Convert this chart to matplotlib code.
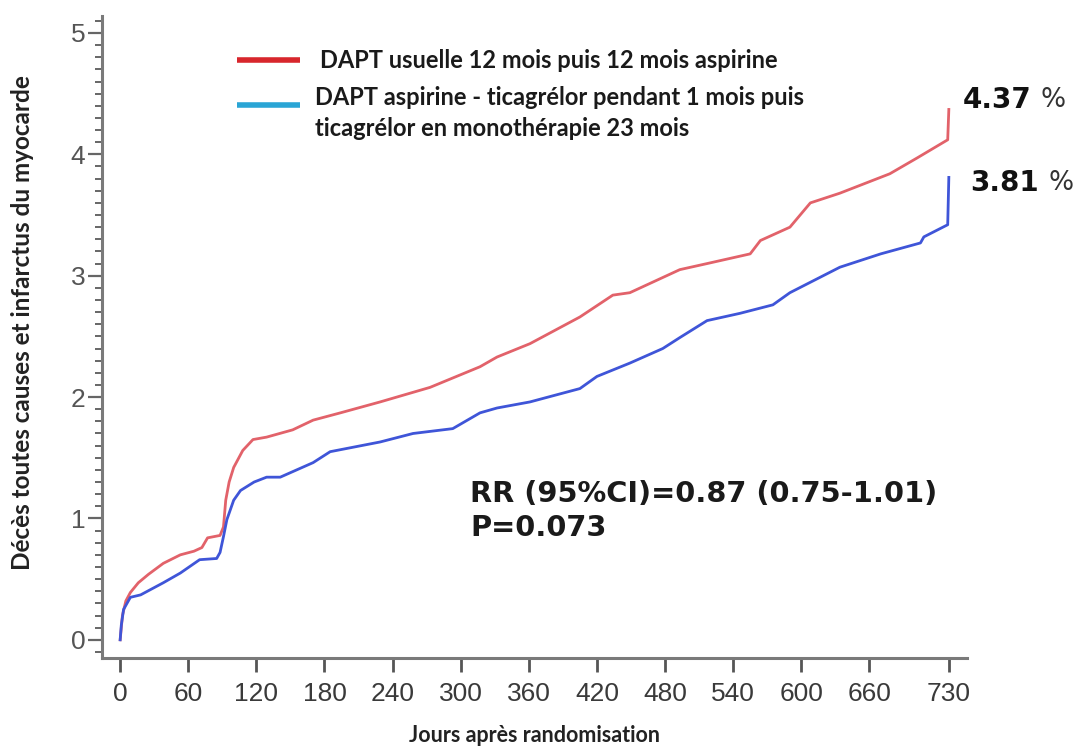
import matplotlib
matplotlib.use('Agg')
import matplotlib.pyplot as plt
from matplotlib.lines import Line2D
from matplotlib.ticker import MultipleLocator
from matplotlib import font_manager

# --- data
RED_DAYS = [0, 2, 5, 9, 16, 25, 38, 53, 65, 72, 77, 88, 91, 93, 96, 100, 108,
            117, 129, 152, 170, 194, 229, 273, 317, 332, 361, 405, 434, 449,
            493, 517, 555, 564, 590, 608, 634, 678, 702, 729, 730]
RED_VALS = [0.0, 0.20, 0.32, 0.39, 0.47, 0.54, 0.63, 0.70, 0.73, 0.76, 0.84,
            0.86, 0.93, 1.15, 1.30, 1.42, 1.56, 1.65, 1.67, 1.73, 1.81, 1.87,
            1.96, 2.08, 2.25, 2.33, 2.44, 2.66, 2.84, 2.86, 3.05, 3.10, 3.18,
            3.29, 3.40, 3.60, 3.68, 3.84, 3.97, 4.12, 4.37]

BLUE_DAYS = [0, 1, 3, 9, 18, 38, 53, 70, 85, 88, 91, 94, 100, 106, 118, 129,
             141, 170, 185, 229, 258, 293, 317, 332, 361, 405, 420, 449, 478,
             493, 517, 546, 575, 590, 634, 670, 705, 708, 729, 730]
BLUE_VALS = [0.0, 0.12, 0.25, 0.35, 0.37, 0.47, 0.55, 0.66, 0.67, 0.72, 0.85,
             0.99, 1.15, 1.23, 1.30, 1.34, 1.34, 1.46, 1.55, 1.63, 1.70, 1.74,
             1.87, 1.91, 1.96, 2.07, 2.17, 2.28, 2.40, 2.49, 2.63, 2.69, 2.76,
             2.86, 3.07, 3.18, 3.27, 3.32, 3.42, 3.81]

X_TICKS = [0, 60, 120, 180, 240, 300, 360, 420, 480, 540, 600, 660, 730]
Y_TICKS = [0, 1, 2, 3, 4, 5]

LEGEND_LABELS = ['DAPT usuelle 12 mois puis 12 mois aspirine',
                 'DAPT aspirine - ticagrélor pendant 1 mois puis\nticagrélor en monothérapie 23 mois']
END_LABELS = ['4.37', '3.81']
STATS_TEXT = 'RR (95%CI)=0.87 (0.75-1.01)\nP=0.073'

#--- style
RED = '#e2626a'
BLUE = '#3f55d8'
KEY_RED = '#d8262c'
KEY_BLUE = '#2aa5d5'
AXIS_GRAY = '#7a7a7a'

names = set(f.name for f in font_manager.fontManager.ttflist)
NARROW = 'Liberation Sans Narrow' if 'Liberation Sans Narrow' in names else 'Liberation Sans'
XTICK_SIZE = 22 if NARROW == 'Liberation Sans Narrow' else 19
LABEL_FONT = ['Lato', 'DejaVu Sans']


def main():
    fig = plt.figure(figsize=(10.78, 7.49), dpi=100)
    ax = fig.add_axes([102 / 1078, 1 - 658 / 749, 865 / 1078, 642 / 749])

    ax.plot(RED_DAYS, RED_VALS, color=RED, lw=2.0, solid_joinstyle='round')
    ax.plot(BLUE_DAYS, BLUE_VALS, color=BLUE, lw=2.0, solid_joinstyle='round')

    ax.set_xlim(-16, 746)
    ax.set_ylim(-0.15, 5.14)

    for s in ['top', 'right']:
        ax.spines[s].set_visible(False)
    for s in ['left', 'bottom']:
        ax.spines[s].set_color(AXIS_GRAY)
        ax.spines[s].set_linewidth(2.2)

    ax.set_xticks(X_TICKS)
    ax.set_xticklabels([str(t) for t in X_TICKS], family=NARROW,
                       fontsize=XTICK_SIZE, color='#3a3a3a')
    ax.set_yticks(Y_TICKS)
    ax.set_yticklabels([str(t) for t in Y_TICKS], family='Liberation Sans',
                       fontsize=19, color='#555555')
    ax.yaxis.set_minor_locator(MultipleLocator(0.1))
    ax.tick_params(axis='x', direction='out', length=10, width=2,
                   color='#555555', pad=7)
    ax.tick_params(axis='y', which='major', direction='out', length=10,
                   width=1.6, color='#666666', pad=2)
    ax.tick_params(axis='y', which='minor', direction='out', length=5,
                   width=1.4, color='#666666')

    ax.set_ylabel('Décès toutes causes et infarctus du myocarde',
                  family=LABEL_FONT, fontsize=17.5, fontweight='bold',
                  color='#222222')
    ax.yaxis.set_label_coords(-0.079, 0.523)
    ax.set_xlabel('Jours après randomisation', family=LABEL_FONT,
                  fontsize=15.5, fontweight='bold', color='#222222',
                  labelpad=14)

    # legend keys drawn by hand so that the blue key sits on the first line
    fig.add_artist(Line2D([237 / 1078, 300 / 1078], [1 - 60 / 749] * 2,
                          color=KEY_RED, lw=4, solid_capstyle='butt'))
    fig.add_artist(Line2D([237 / 1078, 300 / 1078], [1 - 105 / 749] * 2,
                          color=KEY_BLUE, lw=4, solid_capstyle='butt'))
    fig.text(320 / 1078, 1 - 60 / 749, LEGEND_LABELS[0], family=LABEL_FONT,
             fontsize=17, fontweight='bold', color='#1a1a1a', va='center')
    fig.text(315 / 1078, 1 - 86 / 749, LEGEND_LABELS[1], family=LABEL_FONT,
             fontsize=17, fontweight='bold', color='#1a1a1a', va='top',
             linespacing=1.4)

    # end-of-curve percentages
    for lab, x0, y0 in zip(END_LABELS, [963, 970], [100, 183]):
        fig.text(x0 / 1078, 1 - y0 / 749, lab, family='DejaVu Sans',
                 fontsize=20, fontweight='bold', color='#111111', va='center')
        fig.text((x0 + 78) / 1078, 1 - y0 / 749, '%', family='DejaVu Sans',
                 fontsize=19, color='#333333', va='center')

    fig.text(470 / 1078, 1 - 511 / 749, STATS_TEXT, family='DejaVu Sans',
             fontsize=20.8, fontweight='bold', color='#1a1a1a', va='center',
             linespacing=1.25)

    fig.savefig('out.png', dpi=100, facecolor='white')


if __name__ == '__main__':
    main()
